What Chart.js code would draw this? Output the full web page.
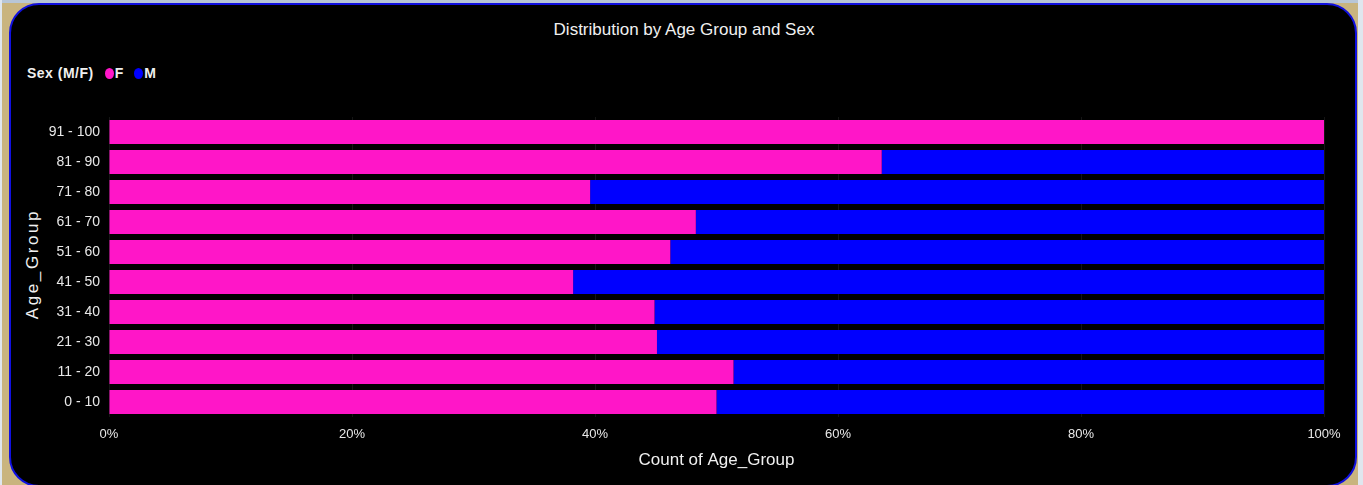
<!DOCTYPE html>
<html>
<head>
<meta charset="utf-8">
<script src="https://cdn.jsdelivr.net/npm/chart.js@4"></script>
<style>
  html, body { margin: 0; padding: 0; }
  body { width: 1363px; height: 485px; background: #c9b47e; position: relative; overflow: hidden;
         font-family: "Liberation Sans Narrow", "Arial Narrow", "Liberation Sans", sans-serif; }
  #topstrip { position: absolute; left: 0; top: 0; width: 1363px; height: 3px; background: #b8c6d6; }
  #rightstrip { position: absolute; right: 0; top: 0; width: 5px; height: 485px; background: #dfe6ee; }
  #leftstrip { position: absolute; left: 0; top: 0; width: 2px; height: 485px; background: #dfe6ee; }
  #panel { position: absolute; left: 9px; top: 3px; width: 1344px; height: 480px; background: #000;
           border: 2px solid #1010e0; border-radius: 30px; }
  #title { position: absolute; left: 384px; width: 600px; top: 20px; text-align: center;
           color: #f0f0f0; font-size: 17px; white-space: nowrap; }
  #legend { position: absolute; left: 27px; top: 65px; color: #f0f0f0; font-size: 14px; font-weight: bold;
            display: flex; align-items: center; white-space: nowrap; }
  #legend .first { letter-spacing: 0.5px; }
  #legend .dot { display: inline-block; width: 9px; height: 11px; border-radius: 50%; margin: 0 1px 0 11px; }
  #legend .lbl { font-weight: bold; }
  #ytitle { position: absolute; left: 33px; top: 264px; transform: translate(-50%, -50%) rotate(-90deg);
            color: #f0f0f0; font-size: 17px; letter-spacing: 2.6px; white-space: nowrap;
            font-family: "Liberation Sans", Arial, sans-serif; }
  #wrap { position: absolute; left: 0; top: 0; width: 1363px; height: 485px; }
</style>
</head>
<body>
<div id="topstrip"></div>
<div id="leftstrip"></div>
<div id="rightstrip"></div>
<div id="panel"></div>
<div id="title">Distribution by Age Group and Sex</div>
<div id="legend"><span class="first">Sex (M/F)</span></div>
<div id="ytitle">Age_Group</div>
<div id="wrap"><canvas id="ageChart" width="1363" height="485"></canvas></div>
<script>
// values (share of each age group, in %)
var ageGroups = ["0 - 10", "11 - 20", "21 - 30", "31 - 40", "41 - 50", "51 - 60", "61 - 70", "71 - 80", "81 - 90", "91 - 100"];
var femaleShare = [50.0, 51.4, 45.1, 44.9, 38.2, 46.2, 48.3, 39.6, 63.6, 100];
var maleShare = [50.0, 48.6, 54.9, 55.1, 61.8, 53.8, 51.7, 60.4, 36.4, 0];
var xTicks = [0, 20, 40, 60, 80, 100];

var narrow = '"Liberation Sans Narrow", "Arial Narrow", "Liberation Sans", sans-serif';

var datasets = [
  { label: "F", data: femaleShare, backgroundColor: "#ff16c8" },
  { label: "M", data: maleShare, backgroundColor: "#0000ff" }
];

// legend in html
var legendBox = document.getElementById("legend");
datasets.forEach(function (ds) {
  var dot = document.createElement("span");
  dot.className = "dot";
  dot.style.background = ds.backgroundColor;
  var lbl = document.createElement("span");
  lbl.className = "lbl";
  lbl.textContent = ds.label;
  legendBox.appendChild(dot);
  legendBox.appendChild(lbl);
});

var canvas = document.getElementById("ageChart");
var ageChart = new Chart(canvas, {
  type: "bar",
  data: {
    labels: ageGroups,
    datasets: datasets.map(function (ds) {
      return {
        label: ds.label,
        data: ds.data,
        backgroundColor: ds.backgroundColor,
        borderWidth: 0,
        categoryPercentage: 0.8,
        barPercentage: 1.0
      };
    })
  },
  options: {
    indexAxis: "y",
    responsive: false,
    animation: false,
    maintainAspectRatio: false,
    devicePixelRatio: 1,
    layout: { padding: { left: 0, right: 39, top: 117, bottom: 0 } },
    plugins: {
      legend: { display: false },
      tooltip: { enabled: false },
      title: { display: false }
    },
    scales: {
      x: {
        stacked: true,
        min: 0,
        max: 100,
        afterBuildTicks: function (scale) {
          scale.ticks = xTicks.map(function (v) { return { value: v }; });
        },
        afterFit: function (scale) { scale.height = 68; },
        grid: { color: "#151515", drawTicks: false },
        border: { display: false },
        ticks: {
          color: "#e8e8e8",
          font: { family: narrow, size: 13 },
          padding: 10,
          maxRotation: 0,
          callback: function (v) { return v + "%"; }
        },
        title: {
          display: true,
          text: "Count of Age_Group",
          color: "#f0f0f0",
          font: { family: narrow, size: 17 },
          padding: { top: 4, bottom: 14 }
        }
      },
      y: {
        stacked: true,
        reverse: true,
        afterFit: function (scale) { scale.width = 109; },
        grid: { display: false },
        border: { display: false },
        ticks: {
          color: "#e8e8e8",
          font: { family: narrow, size: 14 },
          padding: 1
        }
      }
    }
  }
});
</script>
</body>
</html>
